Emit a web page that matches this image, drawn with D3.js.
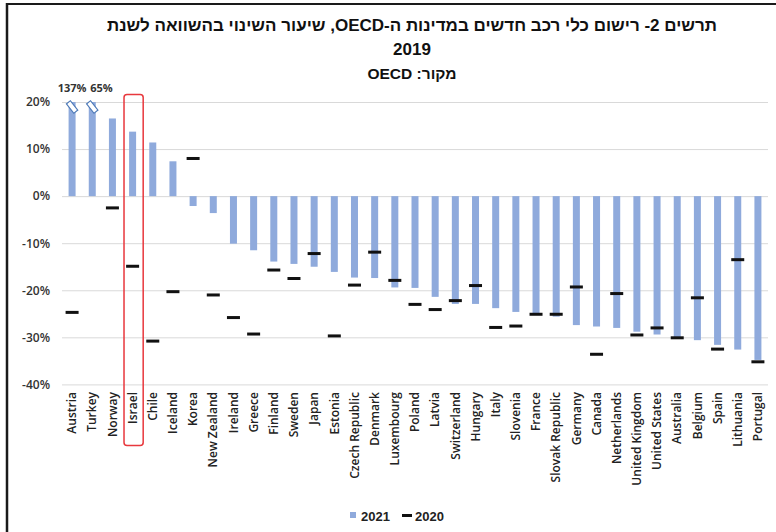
<!DOCTYPE html>
<meta charset="utf-8">
<script src="https://d3js.org/d3.v7.min.js"></script>
<head>
<style>
  body { margin: 0; background: #fff; }
  .ylab text { font-family: "Open Sans", sans-serif; font-size: 12px; font-weight: 600; fill: #333; }
  .xlab text { font-family: "Open Sans", sans-serif; font-size: 12px; font-weight: 600; fill: #222; }
  .title { font-family: "Liberation Sans", Arial, sans-serif; font-weight: bold; fill: #111; }
</style>
</head>
<body>
<div id="viz"></div>
<script>

// countries, sorted as in the source chart
const countries = ["Austria","Turkey","Norway","Israel","Chile","Iceland","Korea","New Zealand","Ireland","Greece",
  "Finland","Sweden","Japan","Estonia","Czech Republic","Denmark","Luxembourg","Poland","Latvia","Switzerland",
  "Hungary","Italy","Slovenia","France","Slovak Republic","Germany","Canada","Netherlands","United Kingdom",
  "United States","Australia","Belgium","Spain","Lithuania","Portugal"];

// % change vs 2019
const val2021 = [137, 65, 16.5, 13.7, 11.4, 7.4, -2.1, -3.6, -10.1, -11.5,
  -13.9, -14.4, -15.0, -16.1, -17.3, -17.4, -19.4, -19.5, -21.4, -22.9,
  -22.9, -23.8, -24.6, -25.1, -25.6, -27.4, -27.7, -28.0, -28.8,
  -29.4, -30.1, -30.6, -31.6, -32.6, -34.8];
const val2020 = [-24.7, null, -2.5, -14.9, -30.8, -20.3, 8.0, -21.0, -25.8, -29.3,
  -15.7, -17.5, -12.2, -29.7, -18.9, -11.9, -17.9, -23.0, -24.1, -22.2,
  -19.0, -27.9, -27.6, -25.1, -25.1, -19.3, -33.6, -20.7, -29.5,
  -28.0, -30.1, -21.6, -32.5, -13.5, -35.2];

const yTicks = [20, 10, 0, -10, -20, -30, -40];
const yMax = 20, yMin = -40;
const highlight = "Israel";

const W = 776, H = 532;
const svg = d3.select("#viz").append("svg")
  .attr("width", W).attr("height", H);

// frame (top and left edge of the screenshot)
svg.append("line").attr("x1", 6).attr("x2", W).attr("y1", 4).attr("y2", 4)
  .attr("stroke", "#1a1a1a").attr("stroke-width", 2);
svg.append("line").attr("x1", 7).attr("x2", 7).attr("y1", 3).attr("y2", H)
  .attr("stroke", "#1a1a1a").attr("stroke-width", 2.5);

// title
svg.append("text").attr("class", "title").attr("x", 412).attr("y", 31)
  .attr("text-anchor", "middle").attr("font-size", 17).attr("direction", "rtl")
  .text("תרשים 2- רישום כלי רכב חדשים במדינות ה-OECD, שיעור השינוי בהשוואה לשנת");
svg.append("text").attr("class", "title").attr("x", 412).attr("y", 55)
  .attr("text-anchor", "middle").attr("font-size", 17).text("2019");
svg.append("text").attr("class", "title").attr("x", 412).attr("y", 79)
  .attr("text-anchor", "middle").attr("font-size", 15.5).attr("direction", "rtl")
  .text("מקור: OECD");

const x = d3.scaleBand().domain(countries).range([62, 768]);
const y = d3.scaleLinear().domain([yMin, yMax]).range([384.4, 102]);
const clamp = v => Math.max(yMin, Math.min(yMax, v));

// y axis + gridlines
const yAxis = svg.append("g").attr("class", "ylab")
  .attr("transform", "translate(62,0)")
  .call(d3.axisLeft(y).tickValues(yTicks).tickSize(-(768 - 62)).tickPadding(12)
    .tickFormat(d => d + "%"));
yAxis.select(".domain").remove();
yAxis.selectAll("line").attr("stroke", "#d9d9d9");

// x axis labels
const xAxis = svg.append("g").attr("class", "xlab")
  .attr("transform", "translate(0,384)")
  .call(d3.axisBottom(x).tickSize(0));
xAxis.select(".domain").remove();
xAxis.selectAll("text")
  .attr("transform", "rotate(-90)")
  .attr("x", -8).attr("y", 0).attr("dy", "0.35em")
  .attr("text-anchor", "end");

// 2021 bars
const bw = 7;
const cx = d => x(d) + x.bandwidth() / 2;
svg.append("g").selectAll("rect")
  .data(countries)
  .join("rect")
  .attr("x", (d) => cx(d) - bw / 2)
  .attr("width", bw)
  .attr("y", (d, i) => y(Math.max(0, clamp(val2021[i]))))
  .attr("height", (d, i) => Math.abs(y(clamp(val2021[i])) - y(0)))
  .attr("fill", "#8faadc");

// axis break marks for values off the scale
const broken = countries.filter((d, i) => val2021[i] > yMax);
svg.append("g").selectAll("rect")
  .data(broken)
  .join("rect")
  .attr("x", -2.5).attr("y", -6).attr("width", 5).attr("height", 12)
  .attr("transform", d => `translate(${cx(d)},${y(yMax) + 5}) rotate(-38)`)
  .attr("fill", "#fff").attr("stroke", "#4f7bb8").attr("stroke-width", 1.2);

// labels for the broken values
svg.append("g").selectAll("text")
  .data(broken)
  .join("text")
  .attr("x", (d, i) => i === 0 ? cx(d) : cx(d) - 2)
  .attr("y", 92)
  .attr("text-anchor", (d, i) => i === 0 ? "middle" : "start")
  .attr("font-family", "Open Sans, sans-serif").attr("font-size", 11).attr("font-weight", 700)
  .attr("fill", "#333")
  .text(d => val2021[countries.indexOf(d)] + "%");

// 2020 markers
svg.append("g").selectAll("rect")
  .data(countries.filter((d, i) => val2020[i] !== null))
  .join("rect")
  .attr("x", d => cx(d) - 6.5)
  .attr("width", 13)
  .attr("y", d => y(val2020[countries.indexOf(d)]) - 1.5)
  .attr("height", 3)
  .attr("fill", "#111");

// highlight box around Israel
svg.append("rect")
  .attr("x", x(highlight) + 1.5).attr("width", x.bandwidth() - 1)
  .attr("y", 94.5).attr("height", 351)
  .attr("rx", 3)
  .attr("fill", "none").attr("stroke", "#e8383d").attr("stroke-width", 1.5);

// legend
const lg = svg.append("g").attr("font-family", "Liberation Sans, Arial, sans-serif")
  .attr("font-size", 13).attr("font-weight", 700).attr("fill", "#222");
lg.append("rect").attr("x", 350).attr("y", 512).attr("width", 6).attr("height", 6).attr("fill", "#8faadc");
lg.append("text").attr("x", 361).attr("y", 520.5).text("2021");
lg.append("rect").attr("x", 402).attr("y", 514).attr("width", 10).attr("height", 3).attr("fill", "#111");
lg.append("text").attr("x", 415).attr("y", 520.5).text("2020");

</script>
</body>
